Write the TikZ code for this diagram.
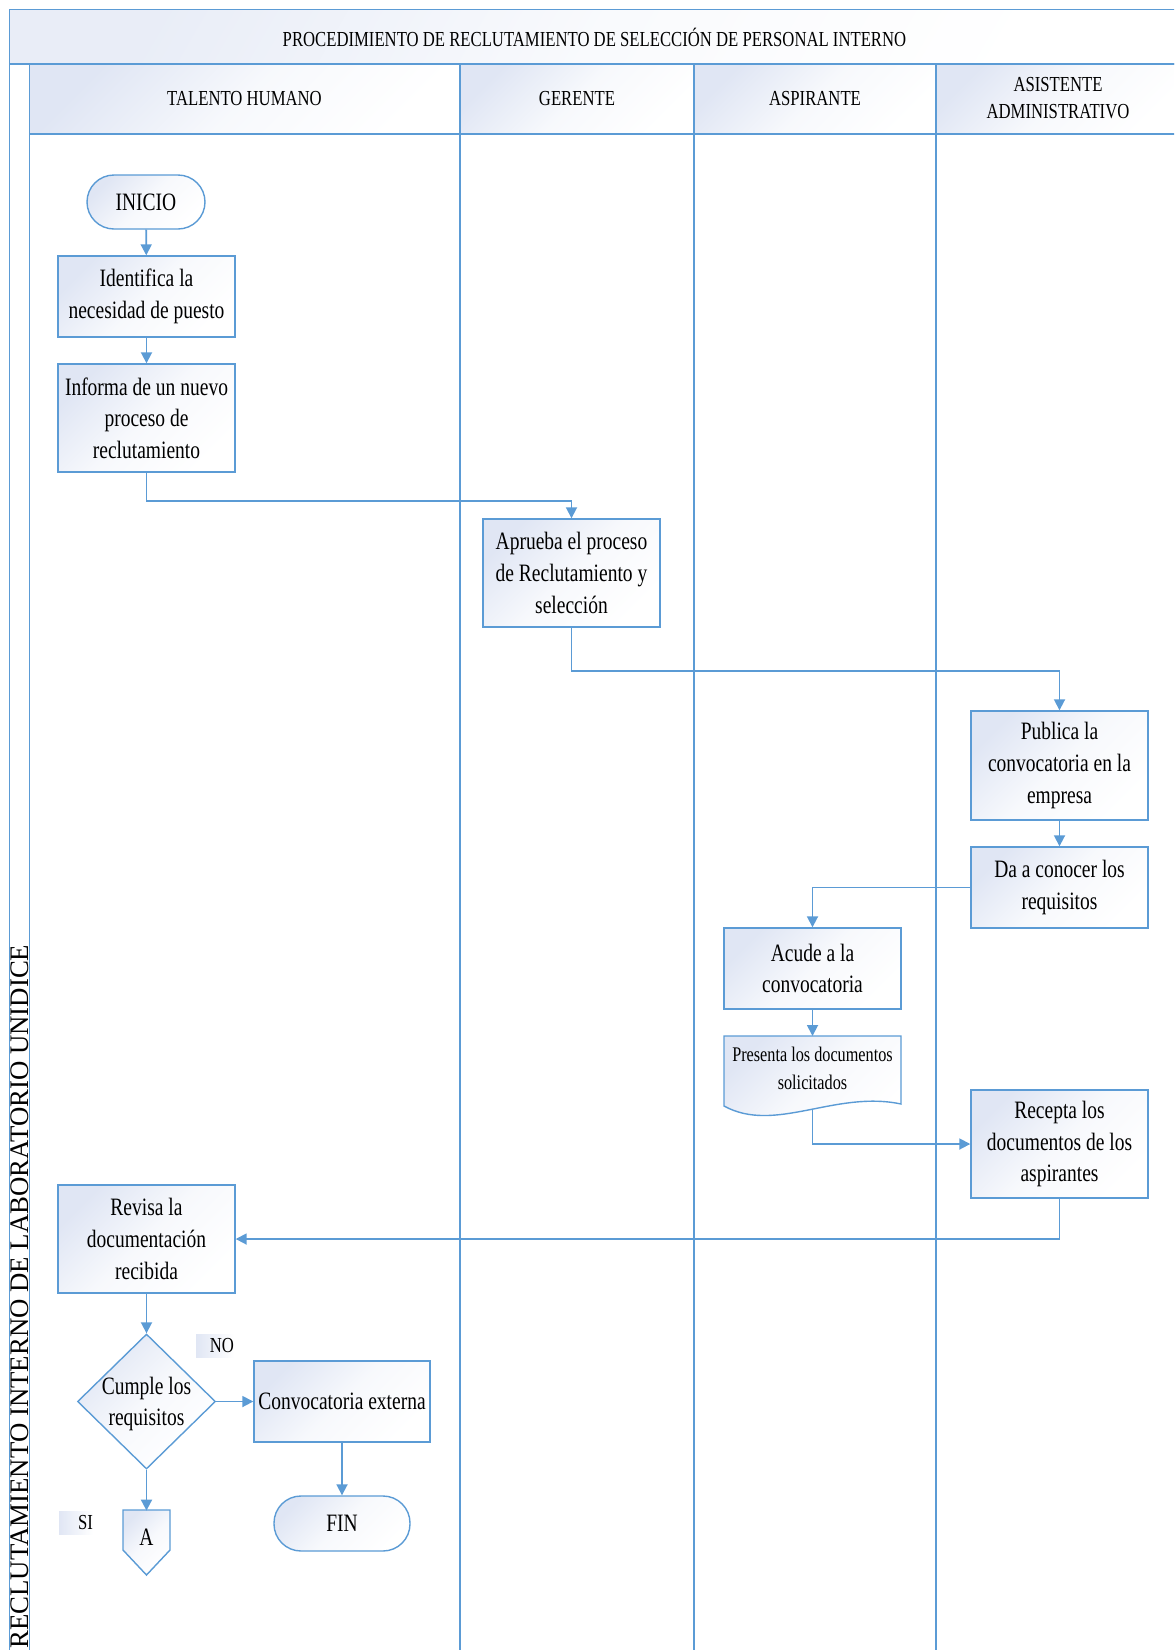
\documentclass[tikz,border=0pt]{standalone}
\usepackage{fontspec}
\setmainfont{Liberation Serif}[FakeStretch=0.78]
\newfontfamily\sidefont{Liberation Serif}
\usetikzlibrary{arrows.meta,shapes.geometric}
\definecolor{lineblue}{RGB}{91,155,213}
\definecolor{fillA}{RGB}{224,230,244}
\newcommand\bxfont{\fontsize{12.5}{15.8}\selectfont}
\newcommand\hdfont{\fontsize{10.7}{13.7}\selectfont}
\newcommand\smfont{\fontsize{10.4}{14}\selectfont}

\begin{document}
\begin{tikzpicture}[x=0.5pt,y=-0.5pt,
  every node/.style={inner sep=0pt},
  ln/.style={draw=lineblue,line width=0.7pt},
  soft/.style={top color=fillA,bottom color=white,middle color=fillA!25!white,shading angle=45},
  proc/.style={ln,soft,rectangle,minimum width=88.5pt,align=center,font=\bxfont},
  term/.style={ln,soft,rectangle,rounded corners=13.5pt,minimum height=27pt,font=\bxfont},
  flow/.style={draw=lineblue,line width=0.9pt,-{Triangle[length=5.5pt,width=5.5pt]}},
  frame/.style={draw=lineblue,line width=0.8pt},
  head/.style={font=\hdfont,align=center},
  tag/.style={left color=fillA,right color=white,font=\hdfont,align=right,minimum height=11.5pt}
]
\useasboundingbox (0,0) rectangle (1174,1650);
\clip (0,0) rectangle (1174,1650);

% swimlane frame
\path[frame,top color=fillA!70!white,bottom color=white,middle color=fillA!20!white,shading angle=60] (9.5,9.5) rectangle (1180,64);
\draw[frame] (9.5,64) rectangle (29.5,1660);
\path[frame,soft] (29.5,64) rectangle (460,134);
\path[frame,soft] (460,64) rectangle (694,134);
\path[frame,soft] (694,64) rectangle (936,134);
\path[frame,soft] (936,64) rectangle (1180,134);
\draw[frame] (460,134) -- (460,1660);
\draw[frame] (694,134) -- (694,1660);
\draw[frame] (936,134) -- (936,1660);

\node[head] (title) at (594.5,37) {PROCEDIMIENTO DE RECLUTAMIENTO DE SELECCIÓN DE PERSONAL INTERNO};
\node[head] (h1) at (244.5,99) {TALENTO HUMANO};
\node[head] (h2) at (577,99) {GERENTE};
\node[head] (h3) at (815,99) {ASPIRANTE};
\node[head] (h4) at (1058,98) {ASISTENTE\\ADMINISTRATIVO};
\node[rotate=90,anchor=west,font=\sidefont\fontsize{13.4}{15}\selectfont] (side) at (19.5,1649) {RECLUTAMIENTO INTERNO DE LABORATORIO UNIDICE};

% process steps
\node[term,minimum width=59pt] (inicio) at (146,202) {INICIO};
\node[proc,minimum height=40.5pt] (ident) at (146.5,296.5) {Identifica la\\necesidad de puesto};
\node[proc,minimum height=54pt] (inform) at (146.5,418) {Informa de un nuevo\\proceso de\\reclutamiento};
\node[proc,minimum height=54pt] (aprueba) at (571.5,573) {Aprueba el proceso\\de Reclutamiento y\\selección};
\node[proc,minimum height=54.5pt] (publica) at (1059.5,765.5) {Publica la\\convocatoria en la\\empresa};
\node[proc,minimum height=40.5pt] (conocer) at (1059.5,887.5) {Da a conocer los\\requisitos};
\node[proc,minimum height=40.5pt] (acude) at (812.5,968.5) {Acude a la\\convocatoria};

% document shape
\path[ln,soft] (724,1106) -- (724,1036) -- (901,1036) -- (901,1104)
  .. controls (835,1090) and (775,1134) .. (724,1106) -- cycle;
\node[align=center,font=\smfont] (presenta) at (812.5,1068) {Presenta los documentos\\solicitados};
\coordinate (prestop) at (812.5,1036);
\coordinate (presbot) at (812.5,1110);

\node[proc,minimum height=54pt] (recepta) at (1059.5,1144) {Recepta los\\documentos de los\\aspirantes};
\node[proc,minimum height=54pt] (revisa) at (146.5,1239) {Revisa la\\documentación\\recibida};
\node[diamond,ln,soft,minimum width=69pt,minimum height=67.5pt] (cumple) at (146.5,1401.5) {};
\node[align=center,font=\bxfont] (cumpletxt) at (146.5,1404) {Cumple los\\requisitos};
\node[proc,minimum width=88pt,minimum height=40.5pt] (externa) at (342,1401.5) {Convocatoria externa};
\node[term,minimum width=68pt,minimum height=27.5pt] (fin) at (342,1523.5) {FIN};

% off-page connector
\path[ln,soft] (123,1510) -- (170,1510) -- (170,1550) -- (146.5,1575) -- (123,1550) -- cycle;
\node[minimum width=23.5pt,minimum height=26pt,font=\bxfont] (A) at (146.5,1537) {A};

\node[tag,text width=19pt] (no) at (215,1345.5) {NO};
\node[tag,text width=17pt] (si) at (76,1522.5) {SI};

% connectors
\draw[flow] (inicio) -- (ident);
\draw[flow] (ident) -- (inform);
\draw[flow] (inform.south) -- ++(0,28) -| (aprueba.north);
\draw[flow] (aprueba.south) -- ++(0,43) -| (publica.north);
\draw[flow] (publica) -- (conocer);
\draw[flow] (conocer.west) -| (acude.north);
\draw[flow] (acude) -- (prestop);
\draw[flow] (presbot) |- (recepta.west);
\draw[flow] (recepta.south) |- (revisa.east);
\draw[flow] (revisa) -- (cumple);
\draw[flow] (cumple.east) -- (externa.west);
\draw[flow] (cumple.south) -- (A.north);
\draw[flow] (externa) -- (fin);
\end{tikzpicture}
\end{document}
